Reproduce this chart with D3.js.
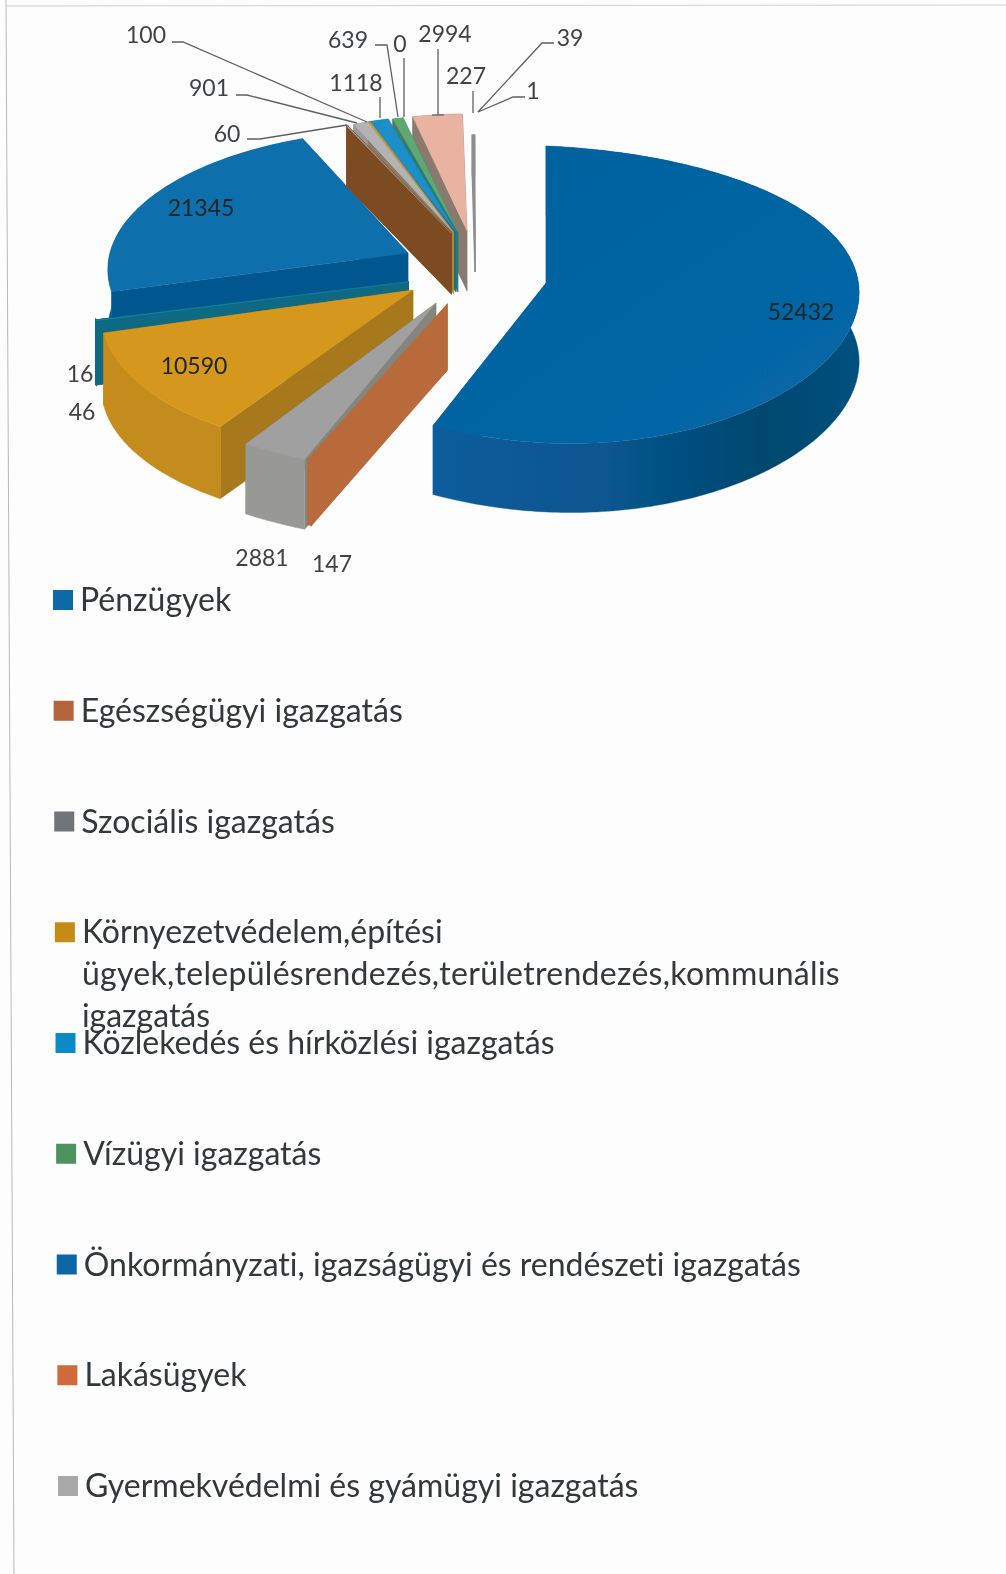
<!DOCTYPE html>
<html><head><meta charset="utf-8">
<style>html,body{margin:0;padding:0;background:#fdfdfd}svg{display:block}text{font-family:Lato,"Noto Sans",sans-serif;font-variant-ligatures:none}</style>
<script src="https://cdn.jsdelivr.net/npm/d3@7"></script></head><body>
<svg id="c" width="1006" height="1574"></svg>
<script>
// ---- data ----
const sliceValues = [52432,147,2881,10590,46,16,21345,60,901,100,1118,639,0,2994,227,1,39];
const legendLabels = [
  ["Pénzügyek"],["Egészségügyi igazgatás"],["Szociális igazgatás"],
  ["Környezetvédelem,építési","ügyek,településrendezés,területrendezés,kommunális","igazgatás"],
  ["Közlekedés és hírközlési igazgatás"],["Vízügyi igazgatás"],
  ["Önkormányzati, igazságügyi és rendészeti igazgatás"],["Lakásügyek"],["Gyermekvédelmi és gyámügyi igazgatás"]];
// ---- styles ----
const legendColors = ["#0b69a8","#b5653a","#6f7478","#c68a16","#1189c8","#4d9360","#1165a6","#cf6a3c","#a9a9a9"];
const topColors  = ["url(#bigTop)","#b86b3c","#a0a0a0","#d6981f","#1789c4","#0d6c88","#1170ad","#a9a9a9","#b3b3b3","#d09a2a","#1b8fc9","#5fa873","#ffffff","#e9b3a2","#8e8e8e","#fdfdfd","#fdfdfd"];
const edgeColors = ["#0a5a98","#b96b3b","#85857f","#a8781a","#0a6a82","#0a6a82","#03578f","#7c4c24","#8c7a62","#c08a20","#17709a","#2f7a70","#888888","#8a7a6e","#8e8e8e","#fdfdfd","#fdfdfd"];
const rimColors  = ["url(#bigRim)","#b96b3b","#989896","#c48c1c","#0a6a82","#0a6a82","#03578f","#7c4c24","#9a9a9a","#c08a20","#17709a","#4a7a66","#888888","#8a7a6e","#8e8e8e","#fdfdfd","#fdfdfd"];
// per-slice projection: apex, radii, perspective factors, tilt, thickness
const sliceGeom = [
  {ax:546,ay:283,rx:313,ry:148.5,kx:-.03,ky:.077,t:.045,d:69},
  {ax:447,ay:305,rx:365,ry:167,kx:0,ky:0,t:0,d:65},
  {ax:436,ay:303,rx:345,ry:169,kx:0,ky:0,t:0,d:70},
  {ax:413,ay:290,rx:308,ry:155,kx:.162,ky:.069,t:0,d:72},
  {ax:408,ay:282,rx:324,ry:142,kx:0,ky:0,t:0,d:64},
  {ax:408,ay:282,rx:324,ry:142,kx:0,ky:0,t:0,d:64},
  {ax:408,ay:253,rx:298,ry:140,kx:.12,ky:.12,t:0,d:60},
  {ax:451,ay:233,rx:262,ry:116,kx:0,ky:0,t:0,d:60},
  {ax:452,ay:231,rx:250,ry:116,kx:0,ky:0,t:0,d:60},
  {ax:453,ay:232,rx:250,ry:116,kx:0,ky:0,t:0,d:60},
  {ax:456,ay:232,rx:262,ry:117,kx:0,ky:0,t:0,d:60},
  {ax:458,ay:232,rx:252,ry:117,kx:0,ky:0,t:0,d:60},
  {ax:460,ay:232,rx:252,ry:117,kx:0,ky:0,t:0,d:60},
  {ax:467,ay:231,rx:250,ry:117,kx:0,ky:0,t:0,d:60},
  {ax:475,ay:232,rx:150,ry:97,kx:0,ky:0,t:0,d:40},
  {ax:478,ay:232,rx:250,ry:120,kx:0,ky:0,t:0,d:0},
  {ax:478,ay:232,rx:250,ry:120,kx:0,ky:0,t:0,d:0}];
// paint order, far to near
const paintOrder = [0,6,5,4,3,2,1,15,16,14,13,12,11,10,9,8,7];
// value labels: text, centre, optional leader
const valueLabels = [
  {t:"100",x:146,y:34,l:[[172,42],[183,42],[367,122]]},
  {t:"901",x:209,y:87,l:[[236,95],[247,95],[357,123]]},
  {t:"60",x:227,y:133,l:[[247,139],[260,139],[347,125]]},
  {t:"1118",x:356,y:82,l:[[380,97],[380,118]]},
  {t:"639",x:348,y:39,l:[[375,45],[387,45],[398,117]]},
  {t:"0",x:400,y:43,l:[[404,58],[404,117]]},
  {t:"2994",x:445,y:33,l:[[438,49],[438,115]]},
  {t:"227",x:466,y:75,l:[[473,91],[473,113]]},
  {t:"39",x:570,y:37,l:[[554,43],[542,43],[478,112]]},
  {t:"1",x:533,y:90,l:[[525,97],[513,97],[478,112]]},
  {t:"21345",x:201,y:207,dark:1},{t:"52432",x:801,y:311,dark:1},{t:"10590",x:194,y:365,dark:1},
  {t:"16",x:80,y:373},{t:"46",x:82,y:411},{t:"2881",x:262,y:557},{t:"147",x:332,y:563}];

const svg = d3.select("#c");
const defs = svg.append("defs");
defs.append("filter").attr("id","soft").append("feGaussianBlur").attr("stdDeviation",.45);
function grad(id,stops,x2,y2){
  const g=defs.append("linearGradient").attr("id",id).attr("x1",0).attr("y1",0).attr("x2",x2).attr("y2",y2);
  stops.forEach(s=>g.append("stop").attr("offset",s[0]).attr("stop-color",s[1]));
}
grad("bigTop",[[0,"#05639f"],[.6,"#0565a3"],[1,"#0867a8"]],1,1);
grad("bigRim",[[0,"#0a5c9c"],[.4,"#07568f"],[.78,"#04476f"],[1,"#06517f"]],1,0);

const root = svg.append("g").attr("filter","url(#soft)");
// page edges
root.append("path").attr("d","M6 0L14 1574").attr("stroke","#b8b8b8").attr("fill","none");
root.append("path").attr("d","M6 6L1006 5").attr("stroke","#d0d0d0").attr("fill","none");

const arcs = d3.pie().sort(null).value(d=>d)(sliceValues);
const line = d3.line();
const proj = (a,g)=>[g.ax+g.rx*Math.sin(a)*(1-g.kx*Math.cos(a)),
                     g.ay-g.ry*Math.cos(a)*(1-g.ky*Math.cos(a))+g.t*g.rx*Math.sin(a)];

paintOrder.forEach(i=>{
  const s=arcs[i], g=sliceGeom[i];
  if(s.value===0) return;
  const n=Math.max(2,Math.ceil((s.endAngle-s.startAngle)*60));
  const rim=d3.range(n+1).map(k=>proj(s.startAngle+(s.endAngle-s.startAngle)*k/n,g));
  const down=p=>[p[0],p[1]+g.d];
  const apex=[g.ax,g.ay];
  const gs=root.append("g");
  const sw=(s.endAngle-s.startAngle)<.02?1.4:.4;
  [rim[0],rim[n]].forEach(p=>{
    gs.append("path").attr("d",line([apex,p,down(p),down(apex)])+"Z")
      .attr("fill",edgeColors[i]).attr("stroke",edgeColors[i]).attr("stroke-width",sw);
  });
  gs.append("path").attr("d",line(rim.concat(rim.map(down).reverse()))+"Z")
    .attr("fill",rimColors[i]).attr("stroke",rimColors[i]).attr("stroke-width",sw);
  gs.append("path").attr("d",line([apex].concat(rim))+"Z")
    .attr("fill",topColors[i]).attr("stroke",i===0?"none":topColors[i]).attr("stroke-width",.3);
});

// labels & leaders
root.append("g").selectAll("path").data(valueLabels.filter(d=>d.l)).join("path")
  .attr("d",d=>line(d.l)).attr("fill","none").attr("stroke","#5e6062").attr("stroke-width",1.3);
root.append("g").selectAll("text").data(valueLabels).join("text")
  .attr("x",d=>d.x).attr("y",d=>d.y).attr("text-anchor","middle").attr("dominant-baseline","central")
  .attr("font-size",23).attr("fill",d=>d.dark?"#1a252b":"#3f4245").text(d=>d.t);
root.append("path").attr("d","M432 115H444").attr("stroke","#5e6062").attr("stroke-width",1.2);

// legend
const rowY = d3.scaleLinear().domain([0,8]).range([600,1486]);
const rowX = d3.scaleLinear().domain([600,1486]).range([53,58]);
const entry = root.append("g").selectAll("g").data(legendLabels).join("g")
  .attr("transform",(d,i)=>`translate(${rowX(rowY(i))},${rowY(i)})`);
entry.append("rect").attr("x",0).attr("y",-10).attr("width",20).attr("height",20)
  .attr("fill",(d,i)=>legendColors[i]);
entry.each(function(lines){
  d3.select(this).selectAll("text").data(lines).join("text")
    .attr("x",27).attr("y",(l,j)=>j*42+11).attr("font-size",32).attr("fill","#33373a")
    .attr("letter-spacing",(l,j)=>j===1?.29:0).text(l=>l);
});
</script></body></html>
